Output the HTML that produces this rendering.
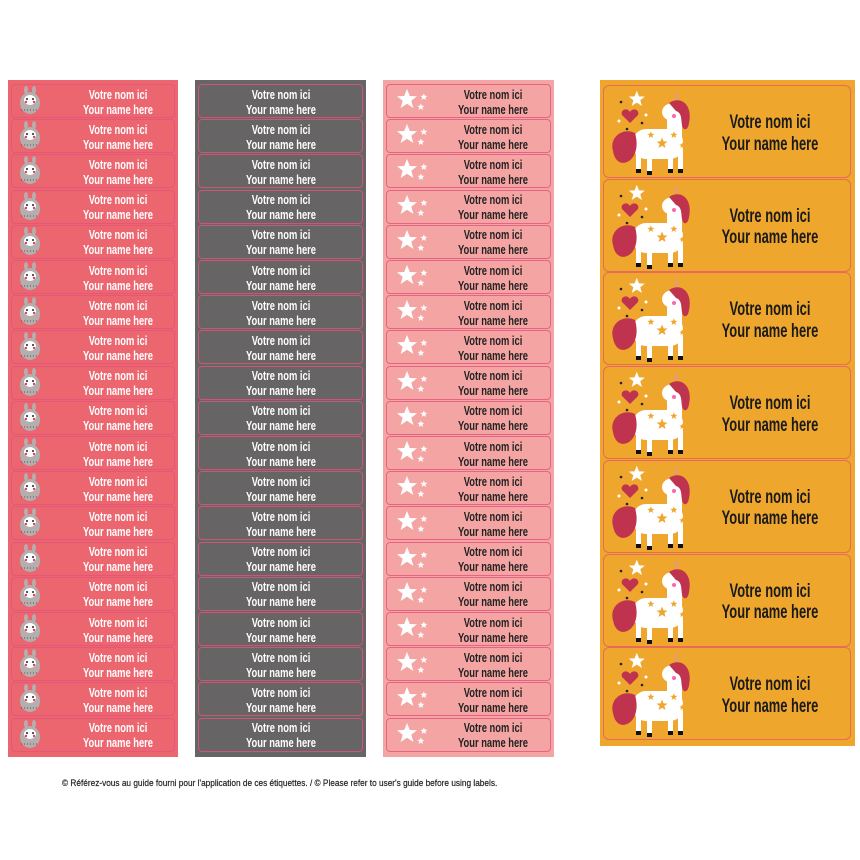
<!DOCTYPE html>
<html><head><meta charset="utf-8"><style>
body{margin:0;width:860px;height:860px;background:#fff;position:relative;overflow:hidden;font-family:"Liberation Sans",sans-serif}
.p{position:absolute}
.l{position:absolute;border:1px solid rgba(229,82,122,.8);border-radius:4px;box-sizing:border-box}
.t{position:absolute;text-align:center;white-space:nowrap;transform:scaleX(0.72);transform-origin:center;font-weight:bold}
.foot{position:absolute;left:62px;top:778px;font-size:9.5px;color:#222;transform:scaleX(0.87);transform-origin:left;white-space:nowrap;-webkit-text-stroke:0.2px #222}
</style></head><body>
<div id="c"></div>
<div class="foot">© Référez-vous au guide fourni pour l'application de ces étiquettes. / © Please refer to user's guide before using labels.</div>
<script>
var h='';
var S='11,1 13.8,8 21,8.3 15.3,12.8 17.4,20 11,15.8 4.6,20 6.7,12.8 1,8.3 8.2,8';
var cols=[{x:8,w:170,bg:'#ec6670',tc:'#fff',ic:'llama'},{x:195,w:171,bg:'#676465',tc:'#fff',ic:''},{x:383,w:171,bg:'#f4a5a3',tc:'#222',ic:'star'}];
cols.forEach(function(c){
 h+='<div class="p" style="left:'+c.x+'px;top:80px;width:'+c.w+'px;height:677px;background:'+c.bg+'"></div>';
 for(var i=0;i<19;i++){
  var y=84+i*35.2;
  h+='<div class="l" style="left:'+(c.x+3)+'px;top:'+y+'px;width:'+(c.w-6)+'px;height:34px"></div>';
  var cx=c.ic?c.x+110:c.x+c.w/2;
  h+='<div class="t" style="left:'+(cx-60)+'px;top:'+(y+2.5)+'px;width:120px;font-size:13px;line-height:15px;color:'+c.tc+'">Votre nom ici<br>Your name here</div>';
  if(c.ic=='llama'){
   h+='<svg class="p" style="left:'+(c.x+9)+'px;top:'+(y+2)+'px" width="26" height="30"><ellipse cx="13" cy="17" rx="10" ry="11" fill="#b5aeae"/><ellipse cx="9" cy="4" rx="2" ry="4" fill="#b5aeae"/><ellipse cx="17" cy="4" rx="2" ry="4" fill="#b5aeae"/><ellipse cx="13" cy="14" rx="6" ry="5" fill="#fff"/><circle cx="10" cy="13" r="1" fill="#222"/><circle cx="16" cy="13" r="1" fill="#222"/><circle cx="9" cy="16" r="1.2" fill="#e0405a"/><circle cx="17" cy="16" r="1.2" fill="#e0405a"/><path d="M4 24h18" stroke="#555" stroke-dasharray="1 2"/></svg>';
  }
  if(c.ic=='star'){
   h+='<svg class="p" style="left:'+(c.x+13)+'px;top:'+(y+4)+'px" width="36" height="26" viewBox="0 0 36 26"><polygon fill="#fff" points="'+S+'"/><polygon fill="#fff" transform="translate(24,5) scale(.35)" points="'+S+'"/><polygon fill="#fff" transform="translate(21,15) scale(.35)" points="'+S+'"/></svg>';
  }
 }
});
h+='<div class="p" style="left:600px;top:80px;width:255px;height:666px;background:#eea62d"></div>';
for(var i=0;i<7;i++){
 var y=85+i*93.7;
 h+='<div class="l" style="left:603px;top:'+y+'px;width:248px;height:93px;border-color:#e86a5a;border-radius:6px"></div>';
 h+='<div class="t" style="left:690px;top:'+(y+27)+'px;width:160px;font-size:19px;line-height:21.5px;color:#1a1a1a;transform:scaleX(0.68)">Votre nom ici<br>Your name here</div>';
 h+='<svg class="p" style="left:603px;top:'+y+'px" width="92" height="93" viewBox="0 0 92 93">'+
 '<polygon fill="#fff" transform="translate(25,5) scale(.8)" points="'+S+'"/>'+
 '<path d="M27 27c-3-5-10-2-8 3l8 8 8-8c2-5-5-8-8-3z" fill="#c0334e"/>'+
 '<circle cx="18" cy="17" r="1.3" fill="#222"/><circle cx="24" cy="44" r="1.3" fill="#222"/><circle cx="39" cy="38" r="1.3" fill="#222"/><circle cx="16" cy="36" r="1.5" fill="#fff"/><circle cx="43" cy="30" r="1.5" fill="#fff"/>'+
 '<rect x="30" y="44" width="50" height="30" rx="13" fill="#fff"/>'+
 '<rect x="64" y="24" width="15" height="34" rx="6" fill="#fff"/>'+
 '<ellipse cx="70" cy="27" rx="11" ry="9" fill="#fff"/>'+
 '<path d="M72 14l1-9 2 9z" fill="#d99"/>'+
 '<path d="M66 18c12-8 24 2 20 20-1 8-6 8-7 2-1-6 0-12-6-14z" fill="#c0334e"/>'+
 '<circle cx="71" cy="31" r="2" fill="#f6a"/>'+
 '<path d="M32 48c-12-6-26 4-22 18 2 12 10 14 16 10 6-4 10-14 6-28z" fill="#c0334e"/>'+
 '<rect x="33" y="66" width="5" height="19" fill="#fff"/><rect x="44" y="68" width="5" height="19" fill="#fff"/><rect x="65" y="66" width="5" height="19" fill="#fff"/><rect x="75" y="64" width="5" height="21" fill="#fff"/>'+
 '<rect x="33" y="84" width="5" height="4" fill="#111"/><rect x="44" y="86" width="5" height="4" fill="#111"/><rect x="65" y="84" width="5" height="4" fill="#111"/><rect x="75" y="84" width="5" height="4" fill="#111"/>'+
 '<polygon fill="#eea62d" transform="translate(53,52) scale(.55)" points="'+S+'"/><polygon fill="#eea62d" transform="translate(44,46) scale(.35)" points="'+S+'"/><polygon fill="#eea62d" transform="translate(67,46) scale(.35)" points="'+S+'"/><polygon fill="#eea62d" transform="translate(76,57) scale(.3)" points="'+S+'"/>'+
 '</svg>';
}
document.getElementById('c').innerHTML=h;
</script>
</body></html>
